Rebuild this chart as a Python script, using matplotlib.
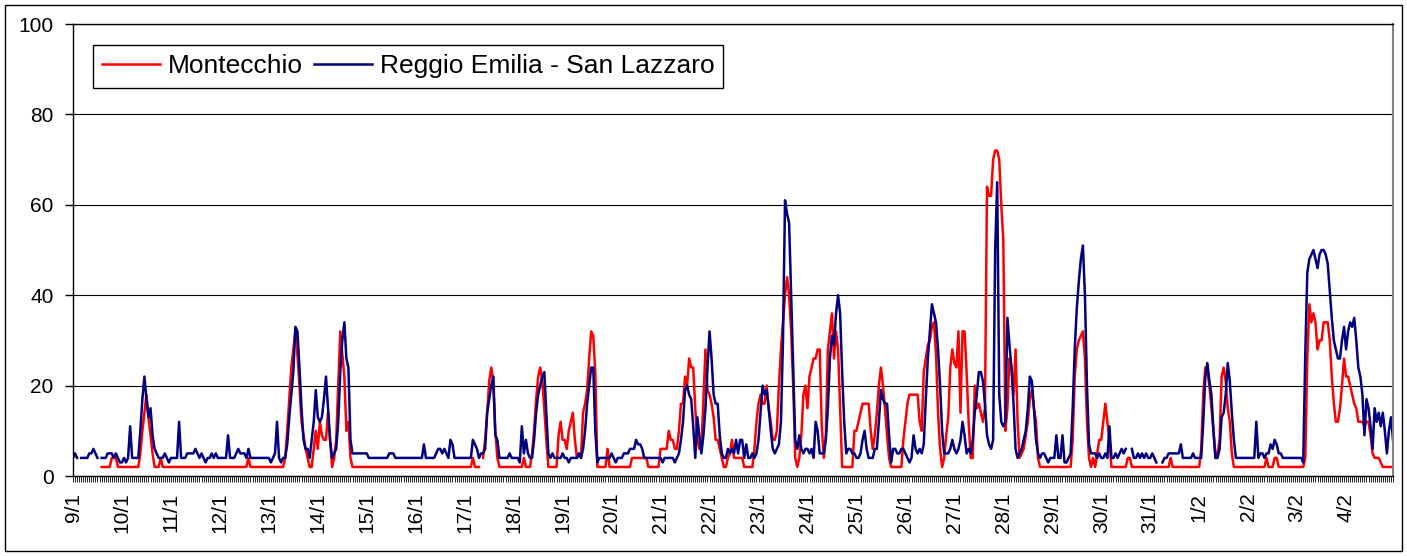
import numpy as np
import matplotlib.pyplot as plt
from matplotlib.patches import Rectangle

nan = np.nan

day_labels = ['9/1', '10/1', '11/1', '12/1', '13/1', '14/1', '15/1', '16/1', '17/1',
              '18/1', '19/1', '20/1', '21/1', '22/1', '23/1', '24/1', '25/1', '26/1',
              '27/1', '28/1', '29/1', '30/1', '31/1', '1/2', '2/2', '3/2', '4/2']

# hourly values, one row per day
montecchio = [
    nan, nan, nan, nan, nan, nan, nan, nan, nan, nan, nan, nan, nan, nan, 2, 2, 2, 2, 2, 4, 4, 4, 2, 2,
    2, 2, 2, 2, 2, 2, 2, 2, 2, 5, 10, 14, 18, 13, 9, 5, 2, 2, 2, 4, 2, 2, 2, 2,
    2, 2, 2, 2, 2, 2, 2, 2, 2, 2, 2, 2, 2, 2, 2, 2, 2, 2, 2, 2, 2, 2, 2, 2,
    2, 2, 2, 2, 2, 2, 2, 2, 2, 2, 2, 2, 2, 2, 4, 2, 2, 2, 2, 2, 2, 2, 2, 2,
    2, 2, 2, 2, 2, 2, 2, 2, 4, 10, 17, 24, 28, 32, 27, 20, 12, 9, 6, 4, 2, 2, 6, 10,
    6, 12, 9, 8, 8, 14, 8, 2, 4, 8, 20, 32, 27, 22, 10, 12, 4, 2, 2, 2, 2, 2, 2, 2,
    2, 2, 2, 2, 2, 2, 2, 2, 2, 2, 2, 2, 2, 2, 2, 2, 2, 2, 2, 2, 2, 2, 2, 2,
    2, 2, 2, 2, 2, 2, 2, 2, 2, 2, 2, 2, 2, 2, 2, 2, 2, 2, 2, 2, 2, 2, 2, 2,
    2, 2, 2, 2, 4, 2, 2, 2, nan, 4, 8, 14, 21, 24, 21, 10, 4, 2, 2, 2, 2, 2, 2, 2,
    2, 2, 2, 2, 2, 4, 2, 2, 2, 5, 10, 17, 22, 24, 21, 15, 8, 2, 2, 2, 2, 2, 9, 12,
    8, 8, 6, 10, 12, 14, 8, 4, 5, 4, 14, 16, 19, 26, 32, 31, 23, 2, 2, 2, 2, 2, 6, 2,
    2, 2, 2, 2, 2, 2, 2, 2, 2, 2, 4, 4, 4, 4, 4, 4, 4, 4, 2, 2, 2, 2, 2, 2,
    6, 6, 6, 6, 10, 8, 8, 6, 6, 10, 16, 16, 22, 20, 26, 24, 24, 15, 8, 6, 6, 17, 28, 19,
    18, 16, 13, 8, 8, 6, 4, 2, 2, 4, 5, 8, 4, 4, 4, 4, 4, 2, 2, 2, 2, 2, 6, 12,
    16, 18, 16, 16, 20, 15, 12, 8, 8, 10, 20, 28, 34, 40, 44, 40, 32, 20, 4, 2, 4, 9, 18, 20,
    15, 22, 24, 26, 26, 28, 28, 11, 4, 9, 28, 32, 36, 26, 32, 28, 15, 2, 2, 2, 2, 2, 2, 10,
    10, 12, 14, 16, 16, 16, 16, 10, 6, 9, 14, 20, 24, 20, 15, 9, 4, 2, 2, 2, 2, 2, 2, 8,
    12, 16, 18, 18, 18, 18, 18, 12, 10, 23, 26, 29, 30, 33, 34, 27, 14, 6, 2, 4, 9, 13, 24, 28,
    25, 24, 32, 14, 32, 32, 23, 12, 4, 4, 20, 15, 16, 14, 12, 15, 64, 62, 62, 70, 72, 72, 70, 60,
    52, 10, 15, 26, 24, 18, 28, 12, 4, 5, 6, 9, 12, 17, 19, 15, 12, 4, 2, 2, 2, 2, 2, 2,
    2, 2, 2, 2, 2, 2, 2, 2, 2, 2, 8, 22, 28, 30, 31, 32, 26, 12, 4, 2, 4, 2, 5, 8,
    8, 12, 16, 12, 8, 2, 2, 2, 2, 2, 2, 2, 2, 4, 4, 2, 2, 2, 2, 2, 2, 2, 2, 2,
    2, 2, 2, 2, 2, 2, 2, 2, 2, 2, 4, 2, 2, 2, 2, 2, 2, 2, 2, 2, 2, 2, 2, 2,
    2, 6, 18, 24, 23, 20, 15, 10, 4, 5, 8, 22, 24, 21, 15, 12, 5, 2, 2, 2, 2, 2, 2, 2,
    2, 2, 2, 2, 2, 2, 2, 2, 2, 4, 2, 2, 2, 4, 4, 2, 2, 2, 2, 2, 2, 2, 2, 2,
    2, 2, 2, 2, 4, 26, 38, 34, 36, 34, 28, 30, 30, 34, 34, 34, 30, 22, 16, 12, 12, 15, 20, 26,
    22, 22, 20, 18, 16, 15, 12, 12, 12, 11, 12, 12, 9, 5, 4, 4, 4, 3, 2, 2, 2, 2, 2, 2,
]

reggio = [
    4, 5, 4, nan, 4, 4, 4, 4, 5, 5, 6, 5, 4, nan, 4, 4, 4, 5, 5, 5, 4, 5, 4, 3,
    3, 4, 3, 4, 11, 4, 4, 4, 4, 10, 17, 22, 17, 13, 15, 9, 6, 5, 4, 4, 4, 5, 4, 3,
    4, 4, 4, 4, 12, 4, 4, 4, 5, 5, 5, 5, 6, 5, 4, 5, 4, 3, 4, 4, 5, 4, 5, 4,
    4, 4, 4, 4, 9, 4, 4, 4, 5, 6, 5, 5, 5, 4, 6, 4, 4, 4, 4, 4, 4, 4, 4, 4,
    4, 3, 4, 5, 12, 4, 3, 4, 4, 7, 13, 18, 23, 33, 32, 24, 15, 8, 6, 6, 4, 8, 12, 19,
    13, 12, 13, 17, 22, 15, 8, 4, 5, 6, 12, 23, 30, 34, 26, 24, 8, 5, 5, 5, 5, 5, 5, 5,
    5, 4, 4, 4, 4, 4, 4, 4, 4, 4, 4, 5, 5, 5, 4, 4, 4, 4, 4, 4, 4, 4, 4, 4,
    4, 4, 4, 4, 7, 4, 4, 4, 4, 4, 5, 6, 6, 5, 6, 5, 4, 8, 7, 4, 4, 4, 4, 4,
    4, 4, 4, 4, 8, 7, 6, 4, 5, 5, 6, 14, 17, 20, 22, 9, 8, 4, 4, 4, 4, 4, 5, 4,
    4, 4, 4, 3, 11, 5, 8, 5, 4, 4, 8, 14, 18, 20, 22, 23, 14, 5, 4, 5, 4, 4, 4, 4,
    5, 4, 4, 3, 4, 4, 4, 4, 5, 4, 6, 10, 16, 20, 24, 24, 10, 3, 4, 4, 4, 4, 4, 4,
    5, 4, 3, 4, 4, 4, 5, 5, 5, 6, 6, 6, 8, 7, 7, 6, 4, 4, 4, 4, 4, 4, 4, 4,
    4, 3, 4, 4, 4, 4, 4, 3, 4, 5, 8, 12, 19, 20, 18, 17, 11, 4, 13, 9, 5, 9, 15, 24,
    32, 26, 18, 16, 16, 9, 5, 4, 4, 6, 5, 6, 5, 8, 5, 8, 8, 4, 7, 4, 4, 5, 4, 5,
    8, 14, 20, 18, 19, 15, 10, 6, 5, 6, 7, 12, 30, 61, 58, 56, 40, 24, 8, 6, 9, 6, 5, 6,
    6, 5, 6, 4, 12, 10, 5, 5, 5, 8, 15, 26, 31, 29, 36, 40, 36, 23, 12, 5, 6, 6, 5, 5,
    4, 4, 5, 8, 10, 6, 4, 4, 4, 6, 6, 12, 19, 17, 16, 16, 9, 3, 6, 6, 5, 5, 6, 6,
    5, 4, 3, 4, 9, 6, 5, 6, 5, 7, 17, 26, 32, 38, 36, 34, 28, 20, 10, 5, 5, 5, 6, 8,
    6, 5, 6, 8, 12, 9, 5, 6, 5, 8, 14, 18, 23, 23, 21, 16, 9, 7, 6, 8, 50, 65, 18, 12,
    11, 12, 35, 29, 24, 16, 6, 4, 5, 6, 8, 10, 15, 22, 21, 15, 8, 5, 4, 5, 5, 4, 3, 4,
    4, 4, 9, 4, 4, 9, 3, 3, 4, 5, 15, 28, 37, 43, 48, 51, 40, 20, 7, 5, 5, 5, 4, 5,
    4, 4, 5, 4, 11, 4, 4, 5, 4, 5, 6, 5, 6, nan, nan, 6, 4, 4, 5, 4, 5, 4, 5, 4,
    4, 5, 4, 3, nan, nan, 3, 4, 4, 5, 5, 5, 5, 5, 5, 7, 4, 4, 4, 4, 4, 5, 4, 4,
    4, 4, 12, 22, 25, 21, 18, 10, 4, 4, 6, 13, 14, 18, 25, 21, 14, 8, 4, 4, 4, 4, 4, 4,
    4, 4, 4, 4, 12, 4, 5, 5, 4, 5, 5, 7, 6, 8, 7, 5, 5, 4, 4, 4, 4, 4, 4, 4,
    4, 4, 4, 3, 27, 45, 48, 49, 50, 48, 46, 49, 50, 50, 49, 47, 41, 35, 30, 28, 26, 26, 30, 33,
    28, 32, 34, 33, 35, 30, 24, 22, 18, 9, 17, 15, 11, 6, 15, 12, 14, 11, 14, 10, 5, 10, 13, 8,
]

plt.rcParams['font.family'] = ['Liberation Sans', 'DejaVu Sans']

W, H = 1407, 556
fig = plt.figure(figsize=(W / 100, H / 100), dpi=100)
ax = fig.add_axes([73 / W, 1 - 476 / H, (1393 - 73) / W, (476 - 24) / H])

hours = np.arange(len(reggio))
ax.plot(hours, montecchio, color='#FF0000', lw=1.8, label='Montecchio')
ax.plot(hours, reggio, color='#000080', lw=1.8, label='Reggio Emilia - San Lazzaro')

ax.set_xlim(0, len(reggio) - 1)
ax.set_ylim(0, 100)
ax.set_yticks(range(0, 101, 20))
ax.yaxis.grid(True, color='black', lw=0.8)
ax.set_axisbelow(True)

ax.set_xticks(np.arange(len(day_labels)) * 24)
ax.set_xticklabels(day_labels, rotation=90)
ax.set_xticks(hours, minor=True)
ax.tick_params(axis='x', which='both', length=4, width=0.6, direction='out', labelsize=15, pad=8)
ax.tick_params(axis='y', length=6, width=1, labelsize=15, pad=8)

for s in ['left', 'bottom', 'top']:
    ax.spines[s].set_color('black')
    ax.spines[s].set_linewidth(1)
ax.spines['right'].set_color('#808080')
ax.spines['right'].set_linewidth(1.5)

leg = ax.legend(loc='upper left', bbox_to_anchor=(0.015, 0.953), ncol=2, fontsize=19,
                frameon=True, fancybox=False, edgecolor='black', framealpha=1,
                handlelength=2.2, handletextpad=0.3, columnspacing=0.4,
                borderpad=0.35, borderaxespad=0)
leg.get_frame().set_linewidth(1)

fig.patches.append(Rectangle((5 / W, 5 / H), (1402 - 5) / W, (551 - 5) / H,
                             transform=fig.transFigure, fill=False, ec='black', lw=1))

fig.savefig('out.png', dpi=100)
